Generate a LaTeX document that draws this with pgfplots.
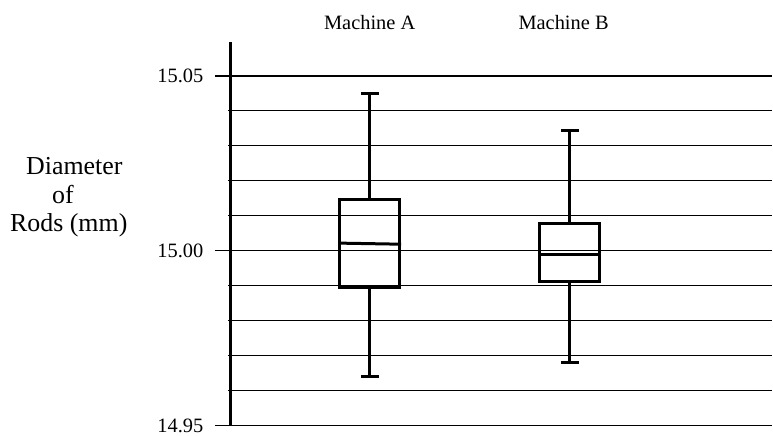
\documentclass[border=0pt]{standalone}
\usepackage{fontspec}
\setmainfont{Liberation Serif}
\newfontfamily\tnr{Liberation Serif}
\usepackage{pgfplots}
\pgfplotsset{compat=1.18}
\begin{document}
\begin{tikzpicture}
\begin{axis}[
  scale only axis, width=542bp, height=384bp,
  xmin=231, xmax=773, ymin=14.95, ymax=15.0597,
  axis x line=none,
  axis y line*=left,
  y axis line style={line width=2.8bp},
  ytick={14.95,15.00,15.05},
  yticklabels={14.95,15.00,15.05},
  minor ytick={14.96,14.97,14.98,14.99,15.01,15.02,15.03,15.04},
  ymajorgrids, yminorgrids,
  major grid style={black, line width=1.2bp},
  minor grid style={black, line width=1.1bp},
  tick align=outside,
  major tick length=16bp, minor tick length=3bp,
  major tick style={black, line width=1.2bp},
  minor tick style={black, line width=1.1bp},
  yticklabel style={font=\tnr\fontsize{20.5}{24}\selectfont, text=black, xshift=-8bp},
  /pgf/number format/assume math mode=true,
  clip=false,
  bx/.style={black, solid, line width=3bp, no marks, line join=miter, line cap=rect},
]
% Machine A
\addplot[bx] coordinates {(340,14.9895) (400,14.9895) (400,15.0146) (340,15.0146) (340,14.9895)};
\addplot[bx] coordinates {(340,15.0022) (400,15.0019)};
\addplot[bx] coordinates {(370,15.0146) (370,15.045)};
\addplot[bx] coordinates {(362.5,15.045) (377.5,15.045)};
\addplot[bx] coordinates {(370,14.9895) (370,14.964)};
\addplot[bx] coordinates {(362.5,14.964) (377.5,14.964)};
% Machine B
\addplot[bx] coordinates {(540,14.9911) (600,14.9911) (600,15.0078) (540,15.0078) (540,14.9911)};
\addplot[bx] coordinates {(540,14.9989) (600,14.9989)};
\addplot[bx] coordinates {(570,15.0078) (570,15.0345)};
\addplot[bx] coordinates {(562.5,15.0345) (577.5,15.0345)};
\addplot[bx] coordinates {(570,14.9911) (570,14.968)};
\addplot[bx] coordinates {(562.5,14.968) (577.5,14.968)};
\node[anchor=base, font=\tnr\fontsize{20.5}{24}\selectfont] at (axis cs:370,15.06334) {Machine A};
\node[anchor=base, font=\tnr\fontsize{20.5}{24}\selectfont] at (axis cs:564,15.06334) {Machine B};
\node[anchor=base west, inner sep=0pt, font=\tnr\fontsize{26}{30}\selectfont] at (axis cs:26,15.02171) {Diameter};
\node[anchor=base west, inner sep=0pt, font=\tnr\fontsize{26}{30}\selectfont] at (axis cs:52,15.01363) {of};
\node[anchor=base west, inner sep=0pt, font=\tnr\fontsize{26}{30}\selectfont] at (axis cs:10,15.00551) {Rods (mm)};
\coordinate (bl) at (axis cs:0,14.94743);
\coordinate (tr) at (axis cs:773,15.07171);
\end{axis}
\path (bl) rectangle (tr);
\end{tikzpicture}
\end{document}
